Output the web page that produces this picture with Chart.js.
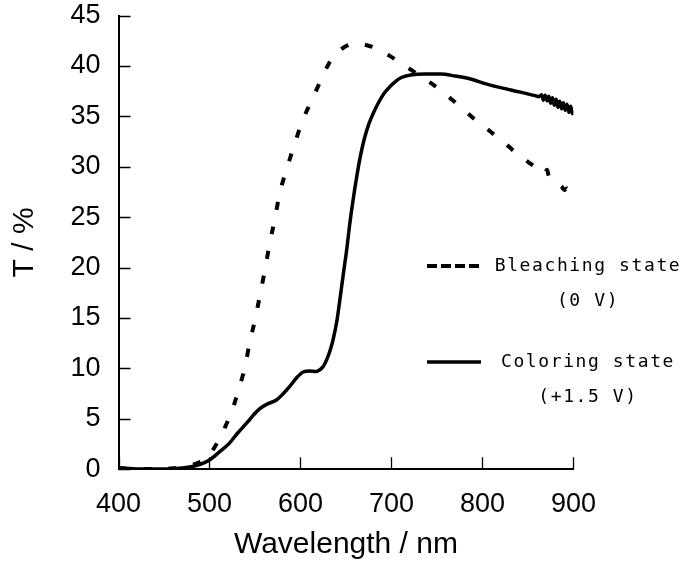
<!DOCTYPE html>
<html><head><meta charset="utf-8">
<script src="https://cdn.jsdelivr.net/npm/chart.js@4.4.1/dist/chart.umd.min.js"></script>
<style>html,body{margin:0;padding:0;background:#fff;} canvas{display:block;}</style>
</head><body>
<canvas id="c" width="684" height="565"></canvas>
<script>
const seriesNames = ['Bleaching state', 'Coloring state'];
const seriesNotes = ['(0 V)', '(+1.5 V)'];
const xTicks = [400, 500, 600, 700, 800, 900];
const yTicks = [0, 5, 10, 15, 20, 25, 30, 35, 40, 45];

const bleachWl = [400,415,430,445,460,470,480,490,497,504,511,517,522,527,531,535,539,544,550,556,561,566,572,577,585,593,602,613,624,631,639,648,656,663,671,680,689,699,709,720,733,745,755,766,777,787,797,808,818,829,839,849,859,864,868,871,873,876,880,884,887,890,893,895,897,900];
const bleachT = [0.10,0.05,0.03,0.05,0.10,0.20,0.40,0.75,1.15,1.95,3.05,4.15,5.20,6.40,7.60,8.80,10.10,12.50,14.80,17.50,19.80,22.30,24.90,27.30,29.80,32.10,34.50,36.70,38.90,40.20,41.20,41.85,42.15,42.25,42.10,41.85,41.45,40.95,40.35,39.70,38.90,38.20,37.50,36.70,35.85,35.05,34.30,33.55,32.80,32.00,31.20,30.55,29.90,29.55,29.30,29.70,29.05,28.85,28.60,28.25,28.05,27.70,27.85,27.30,27.55,27.10];

const colorWl = [400,410,420,435,450,462,470,480,490,500,510,522,531,541,548,555,563,574,581,588,596,603,610,617,621,625,629,633,636,640,643,647,651,654,658,662,666,670,675,680,686,692,699,705,711,721,737,754,770,787,803,820,842,858,862,865,867,869,871,873,875,877,879,881,883,885,887,889,891,893,895,897,899,900];
const colorT = [0.15,0.08,0.03,0.02,0.02,0.06,0.12,0.25,0.50,0.92,1.65,2.60,3.60,4.60,5.35,6.00,6.45,6.90,7.50,8.20,9.10,9.65,9.75,9.70,9.85,10.20,10.90,11.90,12.90,14.70,16.60,19.30,21.90,24.20,26.80,29.10,31.10,32.70,34.20,35.30,36.40,37.30,38.00,38.50,38.85,39.10,39.20,39.20,39.00,38.70,38.25,37.85,37.40,37.05,36.95,37.15,36.60,37.10,36.55,37.00,36.30,36.85,36.10,36.70,35.90,36.50,35.75,36.35,35.60,36.20,35.40,36.00,35.25,35.60];

const toPts = (xs, ys) => xs.map((x, i) => ({x: x, y: ys[i]}));

const tickMarks = {
  id: 'tickMarks',
  beforeDatasetsDraw(chart) {
    const {ctx, chartArea: a, scales: {x, y}} = chart;
    ctx.save();
    ctx.strokeStyle = '#000';
    ctx.lineWidth = 1.3;
    ctx.beginPath();
    x.ticks.forEach(t => { const px = Math.round(x.getPixelForValue(t.value)) + 0.5; ctx.moveTo(px, a.bottom); ctx.lineTo(px, a.bottom - 12); });
    y.ticks.forEach(t => { const py = Math.round(y.getPixelForValue(t.value)) + 0.5; ctx.moveTo(a.left, py); ctx.lineTo(a.left + 12, py); });
    ctx.stroke();
    ctx.restore();
  }
};

const customLegend = {
  id: 'customLegend',
  afterDraw(chart, args, opts) {
    const ctx = chart.ctx;
    ctx.save();
    chart.data.datasets.forEach((ds, i) => {
      const y = opts.rows[i];
      ctx.beginPath();
      ctx.strokeStyle = '#000';
      ctx.lineWidth = opts.widths[i];
      ctx.setLineDash(opts.dashes[i]);
      ctx.moveTo(opts.sampleX0, y);
      ctx.lineTo(opts.sampleX1, y);
      ctx.stroke();
      ctx.setLineDash([]);
      ctx.font = opts.font;
      ctx.fillStyle = '#000';
      ctx.textAlign = 'center';
      ctx.textBaseline = 'middle';
      try { ctx.letterSpacing = opts.spacing; } catch (e) {}
      ctx.fillText(seriesNames[i], opts.textX, y);
      ctx.fillText(seriesNotes[i], opts.textX, y + opts.noteDy);
    });
    ctx.restore();
  }
};

const axisFont = '"Liberation Sans", Arial, Helvetica, sans-serif';

new Chart(document.getElementById('c'), {
  type: 'line',
  data: {
    datasets: [
      {
        label: seriesNames[0],
        data: toPts(bleachWl, bleachT),
        borderColor: '#000',
        borderWidth: 4,
        borderDash: [8, 17],
        borderCapStyle: 'butt',
        cubicInterpolationMode: 'monotone',
        pointRadius: 0,
        fill: false
      },
      {
        label: seriesNames[1],
        data: toPts(colorWl, colorT),
        borderColor: '#000',
        borderWidth: 3.5,
        cubicInterpolationMode: 'monotone',
        pointRadius: 0,
        fill: false
      }
    ]
  },
  options: {
    responsive: false,
    animation: false,
    devicePixelRatio: 1,
    layout: {padding: {top: 15.5, right: 110.6, left: 0, bottom: 0}},
    plugins: {
      legend: {display: false},
      tooltip: {enabled: false},
      customLegend: {
        rows: [266, 362],
        noteDy: 35,
        widths: [4, 3.5],
        dashes: [[10, 4], []],
        sampleX0: 427,
        sampleX1: 481,
        textX: 588,
        font: '18px "DejaVu Sans Mono", monospace',
        spacing: '1.6px'
      }
    },
    scales: {
      x: {
        type: 'linear',
        min: 400,
        max: 900,
        afterBuildTicks: s => { s.ticks = xTicks.map(v => ({value: v})); },
        afterFit: s => { s.height = 95.7; s.paddingRight = 0; s.paddingLeft = 0; },
        grid: {display: true, drawOnChartArea: false, drawTicks: false},
        border: {display: true, color: '#000', width: 2},
        ticks: {color: '#000', font: {family: axisFont, size: 27}, padding: 19, maxRotation: 0, autoSkip: false},
        title: {display: true, text: 'Wavelength / nm', color: '#000', font: {family: axisFont, size: 30}, padding: {top: 0, bottom: 2}}
      },
      y: {
        type: 'linear',
        min: 0,
        max: 45,
        afterBuildTicks: s => { s.ticks = yTicks.map(v => ({value: v})); },
        afterFit: s => { s.width = 118.5; s.paddingTop = 0; s.paddingBottom = 0; },
        grid: {display: true, drawOnChartArea: false, drawTicks: false},
        border: {display: true, color: '#000', width: 2},
        ticks: {color: '#000', font: {family: axisFont, size: 27}, padding: 18, autoSkip: false},
        title: {display: true, text: 'T / %', color: '#000', font: {family: axisFont, size: 30}, padding: {top: 7, bottom: 0}}
      }
    }
  },
  plugins: [tickMarks, customLegend]
});
</script>
</body></html>
